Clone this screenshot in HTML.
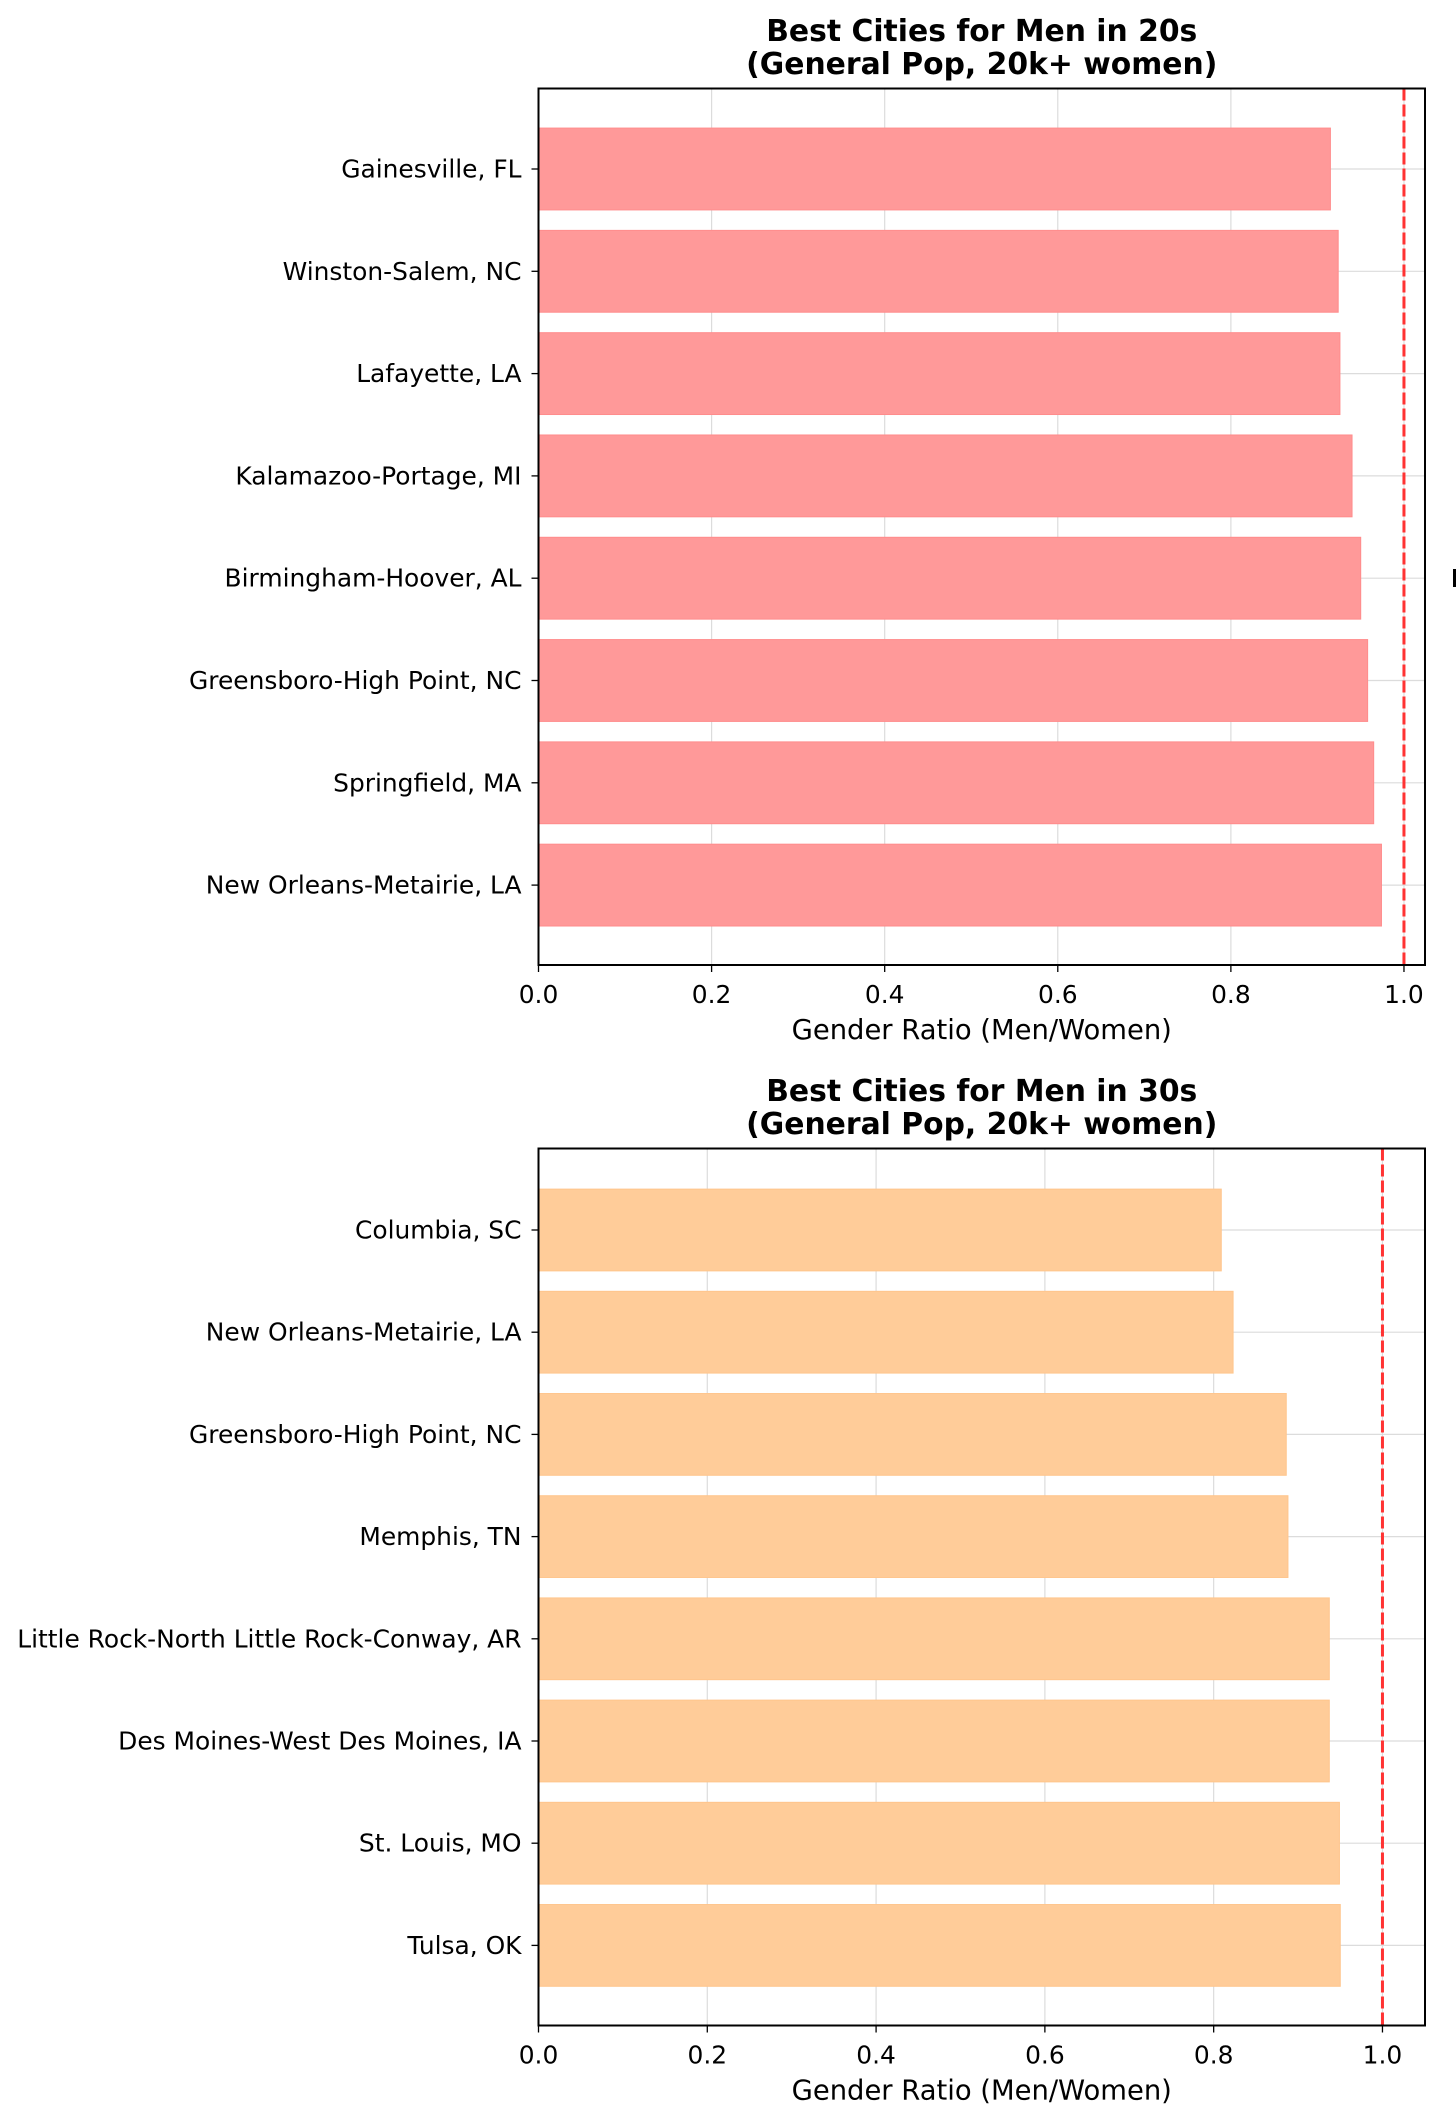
<!DOCTYPE html>
<html><head><meta charset="utf-8"><style>
body{margin:0;background:#fff;}
svg{display:block;font-family:"DejaVu Sans","Liberation Sans",sans-serif;}
</style></head><body>
<svg id="chart" width="1456" height="2123" xmlns="http://www.w3.org/2000/svg"></svg>
<script>
const cities20 = ["Gainesville, FL","Winston-Salem, NC","Lafayette, LA","Kalamazoo-Portage, MI","Birmingham-Hoover, AL","Greensboro-High Point, NC","Springfield, MA","New Orleans-Metairie, LA"];
const ratios20 = [0.915,0.924,0.926,0.940,0.950,0.958,0.965,0.974];
const cities30 = ["Columbia, SC","New Orleans-Metairie, LA","Greensboro-High Point, NC","Memphis, TN","Little Rock-North Little Rock-Conway, AR","Des Moines-West Des Moines, IA","St. Louis, MO","Tulsa, OK"];
const ratios30 = [0.809,0.823,0.886,0.888,0.937,0.937,0.949,0.950];
const xTicks = [0,0.2,0.4,0.6,0.8,1.0];
const xTickLabels = ["0.0","0.2","0.4","0.6","0.8","1.0"];

const NS="http://www.w3.org/2000/svg";
const svg=document.getElementById('chart');
function mk(tag,attrs,parent){const e=document.createElementNS(NS,tag);for(const k in attrs)e.setAttribute(k,attrs[k]);(parent||svg).appendChild(e);return e;}
const TICK_FS=24.9, LABEL_FS=27.4, TITLE_FS=29.8;

function panel(p){
  const g=mk('g',{});
  
  
  const L=538.5,R=1425,T=p.top,B=p.bottom;
  const xs=v=>L+(v/p.xmax)*(R-L);
  const first=p.c0,step=p.step;
  const ys=i=>first+i*step;
  xTicks.forEach(t=>{const l=mk('line',{x1:xs(t),x2:xs(t),y1:T,y2:B,stroke:'#dcdcdc','stroke-width':1.2},g);
    });
  p.cats.forEach((c,i)=>{const l=mk('line',{x1:L,x2:R,y1:ys(i),y2:ys(i),stroke:'#dcdcdc','stroke-width':1.2},g);
    });
  p.vals.forEach((v,i)=>{const h=step*0.8;
    const r=mk('rect',{x:L,y:ys(i)-h/2,width:xs(v)-L,height:h,fill:p.color,stroke:p.edge,'stroke-width':1},g);
    
    
    const tk=mk('line',{x1:L-7,x2:L,y1:ys(i),y2:ys(i),stroke:'#000','stroke-width':1.3},g);
    
    const tx=mk('text',{x:L-17,y:ys(i)+8.5,'text-anchor':'end','font-size':TICK_FS,fill:'#000'},g);
    tx.textContent=p.cats[i];
    
  });
  const rl=mk('line',{x1:xs(1),x2:xs(1),y1:T,y2:B,stroke:'#ff3333','stroke-width':3,'stroke-dasharray':'12 4'},g);
  
  const fr=mk('rect',{x:L,y:T,width:R-L,height:B-T,fill:'none',stroke:'#000','stroke-width':2},g);
  
  xTicks.forEach((t,i)=>{const l=mk('line',{x1:xs(t),x2:xs(t),y1:B,y2:B+7,stroke:'#000','stroke-width':1.3},g);
    
    const tx=mk('text',{x:xs(t),y:B+38,'text-anchor':'middle','font-size':TICK_FS},g);tx.textContent=xTickLabels[i];
    });
  const xl=mk('text',{x:(L+R)/2,y:B+74,'text-anchor':'middle','font-size':LABEL_FS},g);xl.textContent='Gender Ratio (Men/Women)';
  
  const t1=mk('text',{x:(L+R)/2,y:p.titleY,'text-anchor':'middle','font-size':TITLE_FS,'font-weight':'bold'},g);t1.textContent=p.title;
  
  const t2=mk('text',{x:(L+R)/2,y:p.titleY+33,'text-anchor':'middle','font-size':TITLE_FS,'font-weight':'bold'},g);t2.textContent='(General Pop, 20k+ women)';
  
}
panel({name:'panel-20s',cats:cities20,vals:ratios20,top:88.5,bottom:965,c0:169,step:102.3,xmax:1.0243,color:'#ff9999',edge:'#ff8c8c',title:'Best Cities for Men in 20s',titleY:41});
panel({name:'panel-30s',cats:cities30,vals:ratios30,top:1148.5,bottom:2025.5,c0:1230,step:102.2,xmax:1.0504,color:'#ffcc99',edge:'#ffc58c',title:'Best Cities for Men in 30s',titleY:1101});
const clip=mk('rect',{x:1453,y:569,width:3,height:18,fill:'#000'});


</script>
</body></html>
